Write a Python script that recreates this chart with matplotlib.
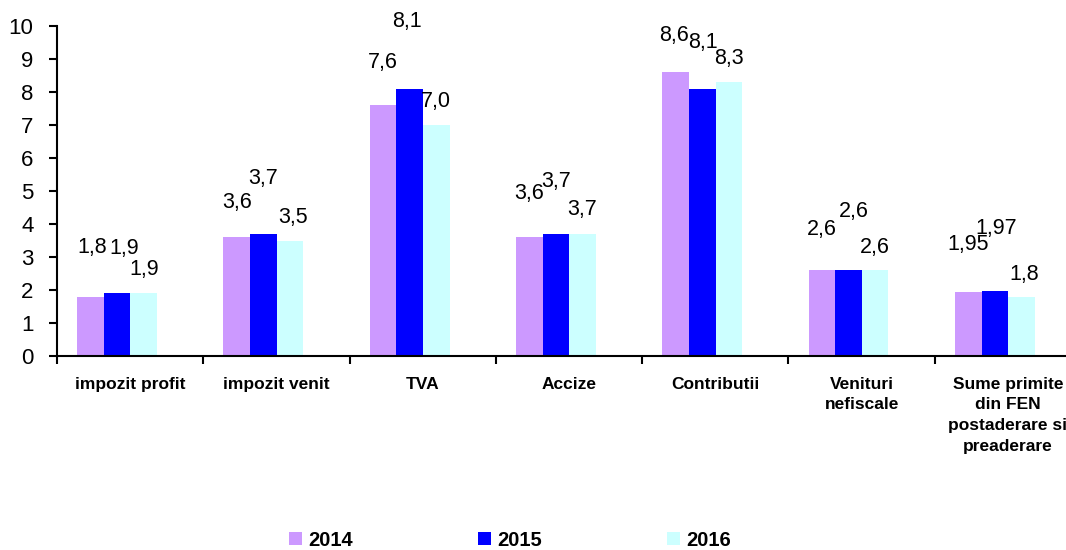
import matplotlib
matplotlib.use("Agg")
import matplotlib.pyplot as plt
import numpy as np

categories = ["impozit profit", "impozit venit", "TVA", "Accize", "Contributii",
              "Venituri\nnefiscale", "Sume primite\ndin FEN\npostaderare si\npreaderare"]
series_names = ["2014", "2015", "2016"]
values_2014 = [1.8, 3.6, 7.6, 3.6, 8.6, 2.6, 1.95]
values_2015 = [1.9, 3.7, 8.1, 3.7, 8.1, 2.6, 1.97]
values_2016 = [1.9, 3.5, 7.0, 3.7, 8.3, 2.6, 1.8]
labels_2014 = ["1,8", "3,6", "7,6", "3,6", "8,6", "2,6", "1,95"]
labels_2015 = ["1,9", "3,7", "8,1", "3,7", "8,1", "2,6", "1,97"]
labels_2016 = ["1,9", "3,5", "7,0", "3,7", "8,3", "2,6", "1,8"]
y_ticks = [0, 1, 2, 3, 4, 5, 6, 7, 8, 9, 10]

# label placement offsets (pixels) relative to bar top, as in the original
off_dx = [[1.5, 0.5, -0.5, 0, -2, 0, 0],
          [7, -0.5, -3, 0, 0.5, 5.5, 1.5],
          [0, 3, 0, 0, 0, 0, 2.5]]
off_dy = [[49, 35, 43, 44, 37, 41, 47],
          [45, 55, 67, 52, 46, 59, 62],
          [24, 23.5, 24, 24, 24, 23, 22]]

colors = ["#CC99FF", "#0000FF", "#CCFFFF"]
FONT = "Liberation Sans"
plt.rcParams["font.family"] = [FONT, "DejaVu Sans"]

W, H = 1066, 550
fig = plt.figure(figsize=(W / 100, H / 100), dpi=100)
ax = fig.add_axes([57 / W, (H - 356) / H, 1024 / W, 330 / H])

x = np.arange(len(categories))
bw = 0.182
shift = -0.089
all_vals = [values_2014, values_2015, values_2016]
all_labels = [labels_2014, labels_2015, labels_2016]
for s, (vals, labs) in enumerate(zip(all_vals, all_labels)):
    pos = x + shift + (s - 1) * bw
    ax.bar(pos, vals, width=bw, color=colors[s], label=series_names[s], linewidth=0)
    for i, (p, v, t) in enumerate(zip(pos, vals, labs)):
        ax.annotate(t, (p, v), xytext=(off_dx[s][i], off_dy[s][i]),
                    textcoords="offset pixels", ha="center", va="center",
                    fontsize=15.5, color="black", annotation_clip=False)

ax.set_xlim(-0.5, len(categories) - 0.5)
ax.set_ylim(0, 10)
ax.set_yticks(y_ticks)
ax.set_yticklabels([str(t) for t in y_ticks], fontsize=16)
ax.set_xticks(np.arange(len(categories) + 1) - 0.5)
ax.set_xticklabels([])
ax.set_xticks(x, minor=True)
ax.set_xticklabels(categories, minor=True, fontsize=12.5, fontweight="bold",
                   linespacing=1.47, va="top")
ax.tick_params(axis="x", which="minor", length=0, pad=15)
ax.tick_params(axis="x", which="major", length=6, width=1.5, direction="out")
ax.tick_params(axis="y", length=6, width=1.5, direction="out", pad=11)
for sp in ["top", "right"]:
    ax.spines[sp].set_visible(False)
for sp in ["left", "bottom"]:
    ax.spines[sp].set_linewidth(1.5)

leg = fig.legend(loc="center", bbox_to_anchor=(510 / W, 1 - 540 / H), ncol=3,
                 frameon=False, prop={"family": FONT, "weight": "bold", "size": 14.5},
                 handlelength=0.65, handleheight=0.65, handletextpad=0.3,
                 columnspacing=6.2)

fig.savefig("out.png", dpi=100)
